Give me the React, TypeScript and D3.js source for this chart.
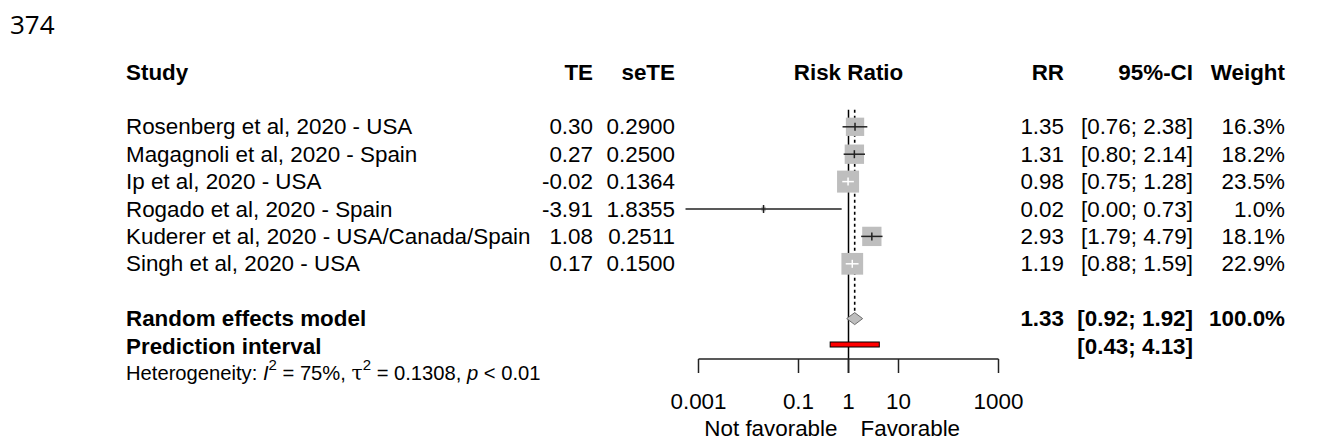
import React, { useEffect, useRef } from 'react';
import * as d3 from 'd3';

// study table
const studies = [
  'Rosenberg et al, 2020 - USA',
  'Magagnoli et al, 2020 - Spain',
  'Ip et al, 2020 - USA',
  'Rogado et al, 2020 - Spain',
  'Kuderer et al, 2020 - USA/Canada/Spain',
  'Singh et al, 2020 - USA',
];
const te = [0.3, 0.27, -0.02, -3.91, 1.08, 0.17];
const seTe = [0.29, 0.25, 0.1364, 1.8355, 0.2511, 0.15];
const rr = [1.35, 1.31, 0.98, 0.02, 2.93, 1.19];
const lower = [0.76, 0.8, 0.75, 0.00055, 1.79, 0.88];
const upper = [2.38, 2.14, 1.28, 0.73, 4.79, 1.59];
const weights = [16.3, 18.2, 23.5, 1.0, 18.1, 22.9];

// random effects model: estimate, lower, upper
const pooled = [1.33, 0.92, 1.92];
const predInterval = [0.43, 4.13];

const axisTicks = [0.001, 0.1, 1, 10, 1000];
const axisLabels = ['0.001', '0.1', '1', '10', '1000'];

const W = 1317;
const H = 439;
const FONT = '"Liberation Sans", Arial, Helvetica, sans-serif';
const FS = 22.4;

const App = () => {
  const ref = useRef<SVGSVGElement | null>(null);

  useEffect(() => {
    if (!ref.current) return;
    const svg = d3.select(ref.current);
    svg.selectAll('*').remove();

    const x = d3.scaleLog().domain([0.001, 1000]).range([698.5, 998.5]);
    const rowH = 27.4;
    const headY = 72;
    const rowY = (i: number) => headY + (i + 2) * rowH;
    const size = d3.scaleSqrt().domain([0, d3.max(weights) as number]).range([0, 22]);

    const reY = rowY(studies.length + 1);
    const piY = rowY(studies.length + 2);
    const hetY = rowY(studies.length + 3);
    const axisY = 359;
    const tickLen = 14;

    const colTE = 593;
    const colSE = 675;
    const colRR = 1064;
    const colCI = 1193;
    const colW = 1285;
    const colStudy = 126;

    const txt = (
      g: d3.Selection<SVGGElement, unknown, null, undefined>,
      s: string,
      px: number,
      py: number,
      anchor: string,
      bold = false,
      size = FS
    ) =>
      g.append('text')
        .attr('x', px)
        .attr('y', py)
        .attr('text-anchor', anchor)
        .attr('dominant-baseline', 'central')
        .style('font-family', FONT)
        .style('font-size', `${size}px`)
        .style('font-weight', bold ? 'bold' : 'normal')
        .style('fill', '#000')
        .text(s);

    // page line numbers
    svg.append('text')
      .attr('x', 10).attr('y', 34)
      .style('font-family', '"Open Sans", sans-serif')
      .style('font-size', '26px')
      .style('fill', '#000')
      .text('374');
    svg.append('text')
      .attr('x', 12).attr('y', 458)
      .style('font-family', '"Open Sans", sans-serif')
      .style('font-size', '26px')
      .style('fill', '#000')
      .text('375');

    const g = svg.append('g');

    // header
    txt(g, 'Study', colStudy, headY, 'start', true);
    txt(g, 'TE', colTE, headY, 'end', true);
    txt(g, 'seTE', colSE, headY, 'end', true);
    txt(g, 'Risk Ratio', x(1), headY, 'middle', true);
    txt(g, 'RR', colRR, headY, 'end', true);
    txt(g, '95%-CI', colCI, headY, 'end', true);
    txt(g, 'Weight', colW, headY, 'end', true);

    // reference lines
    const lineTop = rowY(0) - 17;
    g.append('line')
      .attr('x1', x(1)).attr('x2', x(1))
      .attr('y1', lineTop).attr('y2', axisY + tickLen)
      .attr('stroke', '#000').attr('stroke-width', 1.5);
    g.append('line')
      .attr('x1', x(pooled[0])).attr('x2', x(pooled[0]))
      .attr('y1', lineTop).attr('y2', reY - 6)
      .attr('stroke', '#000').attr('stroke-width', 1.6)
      .attr('stroke-dasharray', '3,3');

    // studies
    studies.forEach((s, i) => {
      const y = rowY(i);
      txt(g, s, colStudy, y, 'start');
      txt(g, te[i].toFixed(2), colTE, y, 'end');
      txt(g, seTe[i].toFixed(4), colSE, y, 'end');
      txt(g, rr[i].toFixed(2), colRR, y, 'end');
      txt(g, `[${lower[i].toFixed(2)}; ${upper[i].toFixed(2)}]`, colCI, y, 'end');
      txt(g, `${weights[i].toFixed(1)}%`, colW, y, 'end');

      const cx = x(rr[i]);
      const sq = size(weights[i]);
      g.append('rect')
        .attr('x', cx - sq / 2).attr('y', y - sq / 2)
        .attr('width', sq).attr('height', sq)
        .attr('fill', '#bebebe');

      const inside = x(lower[i]) >= cx - sq / 2 && x(upper[i]) <= cx + sq / 2;
      const col = inside ? '#fff' : '#222';
      g.append('line')
        .attr('x1', x(lower[i])).attr('x2', x(upper[i]))
        .attr('y1', y).attr('y2', y)
        .attr('stroke', col).attr('stroke-width', 1.5);
      g.append('line')
        .attr('x1', cx).attr('x2', cx)
        .attr('y1', y - 4).attr('y2', y + 4)
        .attr('stroke', col).attr('stroke-width', 1.5);
    });

    // random effects model
    txt(g, 'Random effects model', colStudy, reY, 'start', true);
    txt(g, pooled[0].toFixed(2), colRR, reY, 'end', true);
    txt(g, `[${pooled[1].toFixed(2)}; ${pooled[2].toFixed(2)}]`, colCI, reY, 'end', true);
    txt(g, `${d3.sum(weights).toFixed(1)}%`, colW, reY, 'end', true);
    g.append('polygon')
      .attr('points', [
        [x(pooled[1]), reY],
        [x(pooled[0]), reY - 6],
        [x(pooled[2]), reY],
        [x(pooled[0]), reY + 6],
      ].map((p) => p.join(',')).join(' '))
      .attr('fill', '#bebebe')
      .attr('stroke', '#6e6e6e')
      .attr('stroke-width', 1);

    // prediction interval
    txt(g, 'Prediction interval', colStudy, piY, 'start', true);
    txt(g, `[${predInterval[0].toFixed(2)}; ${predInterval[1].toFixed(2)}]`, colCI, piY, 'end', true);
    g.append('rect')
      .attr('x', x(predInterval[0])).attr('y', piY - 4)
      .attr('width', x(predInterval[1]) - x(predInterval[0])).attr('height', 5)
      .attr('fill', '#f00')
      .attr('stroke', '#000').attr('stroke-width', 1);

    // heterogeneity
    const het = g.append('text')
      .attr('x', colStudy).attr('y', hetY)
      .attr('dominant-baseline', 'central')
      .style('font-family', FONT)
      .style('font-size', '20.2px')
      .style('fill', '#000');
    het.append('tspan').text('Heterogeneity: ');
    het.append('tspan').style('font-style', 'italic').text('I');
    het.append('tspan').attr('dy', -9).style('font-size', '15px').text('2');
    het.append('tspan').attr('dy', 9).text(' = 75%, ');
    het.append('tspan').style('font-family', '"DejaVu Serif", serif').text('τ');
    het.append('tspan').attr('dy', -9).style('font-size', '15px').text('2');
    het.append('tspan').attr('dy', 9).text(' = 0.1308, ');
    het.append('tspan').style('font-style', 'italic').text('p');
    het.append('tspan').text('  <  0.01');

    // axis
    g.append('line')
      .attr('x1', x(axisTicks[0])).attr('x2', x(axisTicks[axisTicks.length - 1]))
      .attr('y1', axisY).attr('y2', axisY)
      .attr('stroke', '#222').attr('stroke-width', 1.5);
    axisTicks.forEach((t, i) => {
      g.append('line')
        .attr('x1', x(t)).attr('x2', x(t))
        .attr('y1', axisY).attr('y2', axisY + tickLen)
        .attr('stroke', '#222').attr('stroke-width', 1.5);
      txt(g, axisLabels[i], x(t), 401, 'middle');
    });
    txt(g, 'Not favorable', x(1) - 11, 428, 'end');
    txt(g, 'Favorable', x(1) + 12, 428, 'start');
  }, []);

  return (
    <svg
      ref={ref}
      width={W}
      height={H}
      style={{ position: 'absolute', left: 0, top: 0, background: '#fff' }}
    ></svg>
  );
};

export default App;
